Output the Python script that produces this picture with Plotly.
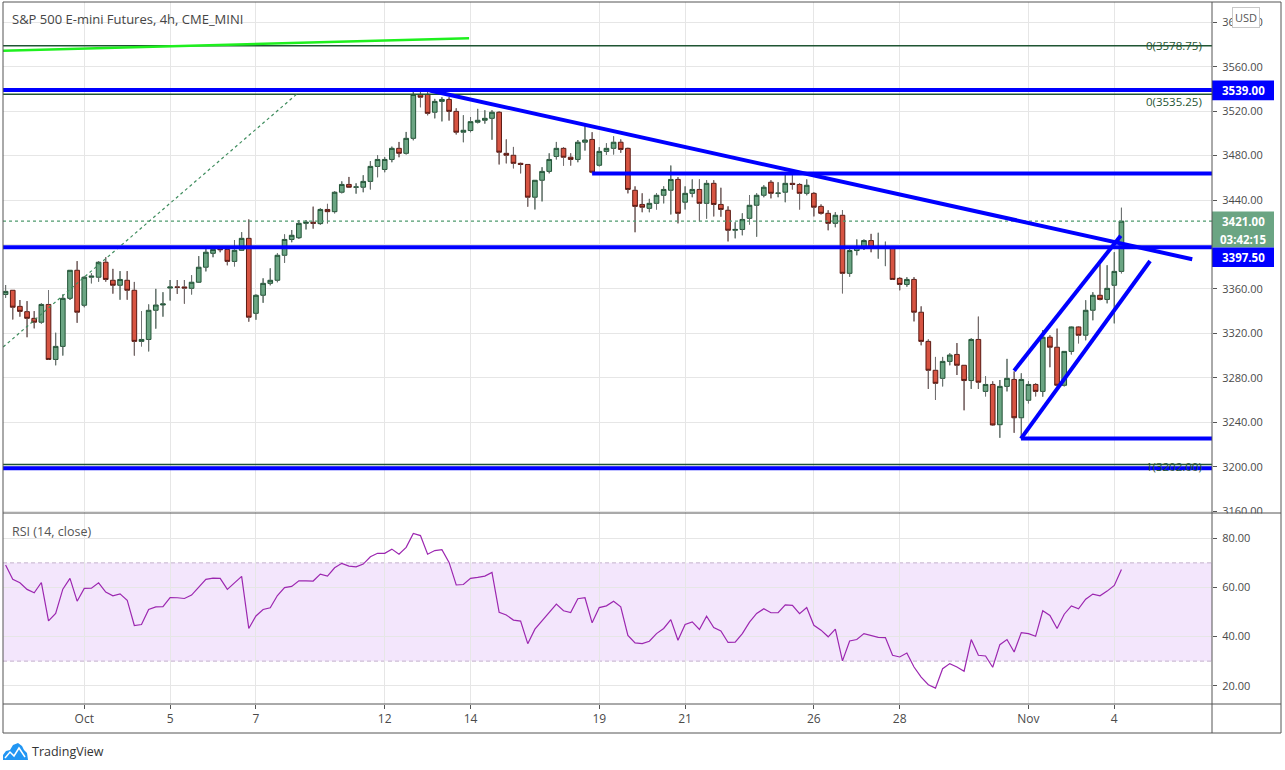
import plotly.graph_objects as go
from plotly.subplots import make_subplots

# ---------------- data ----------------
opens = [3355.0, 3358.75, 3344.25, 3339.5, 3333.5, 3330.0, 3346.0, 3296.5, 3308.25, 3351.5,
         3376.75, 3345.25, 3370.5, 3370.5, 3384.0, 3367.75, 3363.25, 3367.75, 3358.75, 3312.75,
         3314.5, 3340.75, 3345.5, 3360.75, 3361.75, 3361.75, 3360.5, 3366.0, 3379.5, 3392.0,
         3396.25, 3395.5, 3384.75, 3394.75, 3405.5, 3338.0, 3354.25, 3365.0, 3367.75, 3390.25,
         3404.5, 3406.0, 3419.0, 3420.0, 3418.75, 3431.5, 3429.5, 3447.0, 3454.0, 3451.5,
         3451.5, 3456.75, 3470.25, 3467.5, 3476.5, 3486.5, 3482.0, 3495.5, 3535.0, 3535.0,
         3519.0, 3528.75, 3530.5, 3519.75, 3501.0, 3502.5, 3510.0, 3511.75, 3513.5, 3519.0,
         3482.0, 3480.25, 3473.0, 3472.0, 3442.5, 3457.75, 3465.75, 3479.25, 3486.5, 3478.5,
         3476.5, 3492.0, 3494.5, 3471.25, 3483.75, 3486.5, 3492.0, 3486.5, 3448.75, 3436.0,
         3432.5, 3437.0, 3444.25, 3448.75, 3458.5, 3438.0, 3446.0, 3449.5, 3437.0, 3455.0,
         3436.0, 3430.75, 3412.75, 3413.5, 3423.5, 3435.25, 3444.25, 3456.0, 3446.0, 3447.0,
         3455.0, 3454.0, 3446.0, 3446.0, 3434.25, 3428.0, 3419.0, 3426.25, 3374.0, 3394.5,
         3397.0, 3403.5, 3396.75, 3397.0, 3397.5, 3369.5, 3364.0, 3368.5, 3339.0, 3312.75,
         3286.75, 3279.5, 3294.75, 3301.0, 3291.25, 3277.5, 3314.5, 3267.75, 3274.0, 3237.75,
         3272.25, 3278.5, 3244.0, 3259.75, 3274.0, 3267.75, 3316.5, 3307.5, 3273.25, 3303.75,
         3325.75, 3318.25, 3340.75, 3354.25, 3350.5, 3363.25, 3375.75]
highs = [3363.5, 3359.0, 3350.0, 3349.0, 3340.0, 3347.0, 3359.0, 3320.5, 3355.0, 3377.0,
         3385.0, 3371.5, 3374.0, 3385.0, 3388.5, 3378.0, 3376.0, 3376.0, 3366.25, 3339.75,
         3346.0, 3360.0, 3357.0, 3368.0, 3368.0, 3368.0, 3372.25, 3389.5, 3396.25, 3398.0,
         3398.0, 3398.0, 3404.0, 3411.0, 3422.5, 3355.0, 3369.5, 3378.5, 3392.0, 3409.0,
         3413.0, 3422.0, 3422.0, 3434.0, 3432.5, 3436.5, 3448.0, 3456.75, 3460.75, 3455.0,
         3462.25, 3475.0, 3480.25, 3478.5, 3488.0, 3492.25, 3501.25, 3537.5, 3539.0, 3539.0,
         3531.0, 3532.5, 3532.5, 3522.5, 3516.25, 3514.5, 3522.0, 3520.75, 3520.75, 3519.75,
         3494.5, 3487.75, 3473.5, 3472.25, 3458.0, 3469.5, 3482.0, 3492.25, 3487.5, 3482.0,
         3494.0, 3509.0, 3501.0, 3487.5, 3491.0, 3497.25, 3494.5, 3487.0, 3452.25, 3446.0,
         3441.0, 3446.0, 3452.25, 3471.0, 3460.5, 3452.25, 3458.5, 3458.5, 3457.75, 3457.75,
         3451.0, 3434.25, 3420.0, 3428.0, 3444.25, 3446.0, 3453.25, 3457.75, 3456.0, 3463.0,
         3463.0, 3455.0, 3458.5, 3447.0, 3436.0, 3430.75, 3429.0, 3431.0, 3396.5, 3404.5,
         3404.5, 3409.5, 3410.5, 3402.5, 3398.0, 3370.5, 3370.5, 3370.5, 3344.25, 3314.5,
         3298.75, 3298.75, 3302.0, 3311.25, 3291.5, 3315.5, 3335.0, 3281.25, 3276.75, 3278.0,
         3297.0, 3285.75, 3284.0, 3276.75, 3275.0, 3323.0, 3318.25, 3324.25, 3304.0, 3326.0,
         3326.5, 3349.75, 3357.0, 3382.0, 3381.25, 3393.0, 3433.0]
lows = [3352.0, 3332.5, 3335.0, 3316.5, 3324.5, 3328.75, 3296.0, 3291.25, 3300.0, 3350.0,
        3329.5, 3343.5, 3365.0, 3366.5, 3366.5, 3355.75, 3350.25, 3350.25, 3300.0, 3308.25,
        3303.75, 3324.25, 3335.0, 3349.5, 3355.5, 3346.75, 3355.0, 3365.5, 3375.75, 3388.5,
        3393.0, 3381.25, 3380.25, 3394.5, 3330.5, 3332.25, 3347.5, 3363.25, 3366.0, 3383.5,
        3402.0, 3405.0, 3413.5, 3414.25, 3417.75, 3419.0, 3428.0, 3446.0, 3451.0, 3445.75,
        3447.0, 3449.5, 3460.5, 3465.0, 3474.0, 3478.5, 3481.0, 3493.75, 3523.5, 3516.25,
        3513.5, 3510.75, 3511.5, 3499.0, 3492.0, 3501.0, 3509.0, 3508.75, 3494.25, 3472.0,
        3473.0, 3468.5, 3464.0, 3434.0, 3431.5, 3438.75, 3464.0, 3476.5, 3471.0, 3471.0,
        3474.0, 3484.5, 3464.0, 3470.25, 3480.75, 3481.0, 3482.5, 3446.0, 3411.0, 3429.0,
        3429.0, 3431.5, 3437.0, 3427.0, 3419.0, 3431.5, 3442.5, 3420.75, 3423.25, 3425.25,
        3425.0, 3402.75, 3405.5, 3408.25, 3418.0, 3407.0, 3442.5, 3441.5, 3442.5, 3438.0,
        3449.5, 3431.5, 3444.25, 3425.25, 3427.0, 3412.75, 3415.5, 3356.0, 3371.0, 3390.25,
        3395.0, 3393.0, 3387.25, 3380.5, 3368.0, 3358.75, 3362.0, 3330.75, 3309.25, 3270.0,
        3260.25, 3272.25, 3291.25, 3282.5, 3250.75, 3270.0, 3270.0, 3263.25, 3237.0, 3226.0,
        3267.75, 3230.5, 3225.5, 3257.0, 3263.25, 3263.0, 3289.5, 3272.25, 3272.25, 3301.0,
        3311.0, 3313.75, 3331.75, 3349.75, 3347.0, 3329.0, 3374.0]
closes = [3357.75, 3343.5, 3339.75, 3333.5, 3330.0, 3346.0, 3296.5, 3308.25, 3351.5, 3376.75,
          3339.0, 3370.5, 3371.5, 3384.0, 3368.5, 3363.25, 3368.5, 3358.75, 3312.75, 3314.5,
          3340.75, 3345.5, 3346.5, 3361.75, 3361.5, 3360.75, 3366.0, 3379.5, 3393.0, 3395.5,
          3395.25, 3384.75, 3394.75, 3405.5, 3334.5, 3354.25, 3365.0, 3367.75, 3390.25, 3404.5,
          3408.25, 3419.0, 3420.0, 3419.0, 3431.5, 3429.5, 3447.0, 3454.0, 3451.5, 3451.75,
          3456.75, 3470.25, 3476.5, 3476.5, 3486.5, 3482.0, 3495.5, 3535.0, 3532.5, 3518.0,
          3528.75, 3530.5, 3519.75, 3501.0, 3502.75, 3510.5, 3511.75, 3513.5, 3519.0, 3483.0,
          3480.25, 3473.0, 3472.0, 3442.5, 3457.75, 3465.75, 3476.5, 3486.5, 3478.5, 3476.5,
          3492.0, 3494.0, 3465.0, 3483.75, 3486.5, 3492.0, 3485.5, 3449.5, 3434.25, 3433.5,
          3437.0, 3444.25, 3449.5, 3458.5, 3428.0, 3446.0, 3449.5, 3437.0, 3455.0, 3436.0,
          3431.5, 3412.75, 3413.5, 3422.5, 3435.25, 3444.25, 3451.5, 3446.0, 3446.25, 3455.0,
          3454.0, 3446.0, 3453.25, 3433.5, 3428.0, 3419.0, 3426.25, 3374.0, 3394.5, 3397.5,
          3403.5, 3396.5, 3397.5, 3397.5, 3368.5, 3364.0, 3368.5, 3339.0, 3312.75, 3286.75,
          3275.0, 3294.75, 3300.5, 3291.25, 3277.5, 3314.5, 3276.0, 3274.0, 3237.5, 3272.25,
          3279.5, 3244.0, 3278.5, 3274.0, 3267.75, 3316.5, 3307.5, 3273.25, 3303.75, 3325.75,
          3318.25, 3340.75, 3354.25, 3350.5, 3360.5, 3375.75, 3421.0]
rsi_values = [69.1, 63.3, 61.9, 59.2, 57.8, 62.0, 46.4, 49.4, 59.3, 63.7,
              54.4, 59.6, 59.7, 61.9, 58.1, 56.6, 57.4, 54.8, 44.5, 44.9,
              51.0, 52.1, 52.2, 55.9, 55.8, 55.5, 56.9, 60.0, 63.3, 63.8,
              63.7, 59.2, 62.0, 64.5, 43.3, 48.4, 51.0, 51.7, 56.7, 59.9,
              60.4, 62.7, 62.7, 62.6, 65.4, 64.6, 68.0, 69.8, 68.7, 68.4,
              69.5, 72.5, 73.9, 73.9, 75.6, 73.5, 76.3, 82.0, 81.1, 73.5,
              75.0, 75.4, 70.2, 61.0, 61.2, 63.7, 64.1, 64.6, 66.1, 49.9,
              48.8, 46.7, 46.3, 37.1, 43.0, 46.3, 49.7, 53.2, 50.5, 49.8,
              55.4, 55.8, 45.6, 51.8, 52.5, 54.4, 52.1, 40.5, 37.4, 37.1,
              38.1, 41.2, 43.3, 46.9, 38.5, 44.9, 46.0, 42.9, 48.3, 43.7,
              42.3, 37.6, 37.7, 41.2, 45.9, 49.4, 51.3, 49.7, 49.7, 52.9,
              52.7, 49.3, 51.8, 44.6, 42.6, 39.9, 43.0, 30.1, 38.2, 38.8,
              41.2, 40.3, 39.7, 39.6, 32.4, 31.7, 33.3, 27.6, 23.5, 20.4,
              19.0, 26.9, 29.0, 27.6, 25.9, 38.8, 32.4, 32.1, 27.5, 36.7,
              38.8, 33.7, 41.6, 41.2, 40.1, 50.5, 48.6, 43.3, 49.1, 52.5,
              51.3, 55.2, 57.3, 56.6, 58.5, 60.8, 67.3]
tick_bars = [11, 23, 35, 53, 65, 83, 95, 113, 125, 143, 155]
tick_labels = ["Oct", "5", "7", "12", "14", "19", "21", "26", "28", "Nov", "4"]
price_ticks = [3160, 3200, 3240, 3280, 3320, 3360, 3400, 3440, 3480, 3520, 3560, 3600]
price_tick_text = ["3160.00", "3200.00", "3240.00", "3280.00", "3320.00", "3360.00", "",
                   "3440.00", "3480.00", "3520.00", "3560.00", "3600.00"]
rsi_ticks = [20, 40, 60, 80]

# drawings on the chart (bar index, price)
fib_levels = [3578.75, 3535.25, 3202.00]
fib_names = ["0(3578.75)", "0(3535.25)", "1(3202.00)"]
blue_levels = [3539.0, 3397.5, 3198.5]
ray_start = (82, 3463.75)
trend_down = [(59.3, 3538.6), (165.9, 3386.7)]
channel_upper = [(141.0, 3286.4), (155.9, 3407.9)]
channel_lower = [(141.95, 3225.25), (160.0, 3385.1)]
channel_base = 3225.25
fib_diag = [(-19.4, 3202.0), (40.7, 3535.25)]
green_line = [(-0.4, 3574.4), (64.8, 3585.6)]
rsi_band = (30, 70)

# ---------------- geometry ----------------
W, H = 1285, 770
ML, MR, MT, MB = 3, 73, 2, 66
PW, PH = W - ML - MR, H - MT - MB


def fx(px):
    return (px - ML) / PW


def fy(py):
    return (H - MB - py) / PH


split = fy(513)
FONT = "Open Sans, Noto Sans, sans-serif"
BLUE = "#0000ff"
FIBC = "#1f5533"
FRAME = "#555555"
GRID = "#e6e6e6"
UP, DOWN = "#6ba583", "#d75442"

bars = list(range(len(closes)))

fig = make_subplots(rows=2, cols=1, shared_xaxes=True, vertical_spacing=0)

fig.add_trace(go.Candlestick(
    x=bars, open=opens, high=highs, low=lows, close=closes,
    increasing=dict(line=dict(color="#225437", width=1), fillcolor=UP),
    decreasing=dict(line=dict(color="#5b1a13", width=1), fillcolor=DOWN),
    whiskerwidth=0, hoverinfo="skip"), row=1, col=1)

wick_x, wick_y = [], []
for i, o, h, l, c in zip(bars, opens, highs, lows, closes):
    top, bot = max(o, c), min(o, c)
    wick_x += [i, i, None, i, i, None]
    wick_y += [h, top, None, bot, l, None]
fig.add_trace(go.Scatter(x=wick_x, y=wick_y, mode="lines",
                         line=dict(color="#737375", width=1), hoverinfo="skip"),
              row=1, col=1)

fig.add_trace(go.Scatter(x=bars, y=rsi_values, mode="lines",
                         line=dict(color="#9c27b0", width=1.2), hoverinfo="skip"),
              row=2, col=1)

# ---------------- shapes ----------------
shapes = []
# RSI band
shapes.append(dict(type="rect", xref="paper", x0=0, x1=1, yref="y2", y0=rsi_band[0], y1=rsi_band[1],
                   fillcolor="#f3e6fc", line=dict(width=0), layer="below"))
for lv in rsi_band:
    shapes.append(dict(type="line", xref="paper", x0=0, x1=1, yref="y2", y0=lv, y1=lv,
                       line=dict(color="#c4b2cc", width=1, dash="4px,3px"), layer="below"))

# current price dotted line
shapes.append(dict(type="line", xref="paper", x0=0, x1=1, yref="y", y0=closes[-1], y1=closes[-1],
                   line=dict(color="#4f9a6e", width=1.2, dash="dot"), layer="above"))
# fib levels
for lv in fib_levels:
    shapes.append(dict(type="line", xref="paper", x0=0, x1=1, yref="y", y0=lv, y1=lv,
                       line=dict(color=FIBC, width=1.5), layer="above"))
# fib diagonal
shapes.append(dict(type="line", xref="x", yref="y", x0=fib_diag[0][0], y0=fib_diag[0][1],
                   x1=fib_diag[1][0], y1=fib_diag[1][1],
                   line=dict(color="#3f8d5e", width=1.2, dash="3px,3px"), layer="above"))
# lime line
shapes.append(dict(type="line", xref="x", yref="y", x0=green_line[0][0], y0=green_line[0][1],
                   x1=green_line[1][0], y1=green_line[1][1],
                   line=dict(color="#1ef01e", width=2.5), layer="above"))
# blue horizontal levels
for lv in blue_levels:
    shapes.append(dict(type="line", xref="paper", x0=0, x1=1, yref="y", y0=lv, y1=lv,
                       line=dict(color=BLUE, width=4), layer="above"))
# resistance ray
shapes.append(dict(type="line", xref="x", yref="y", x0=ray_start[0], y0=ray_start[1],
                   x1=400, y1=ray_start[1], line=dict(color=BLUE, width=4), layer="above"))
# channel base ray
shapes.append(dict(type="line", xref="x", yref="y", x0=channel_lower[0][0], y0=channel_base,
                   x1=400, y1=channel_base, line=dict(color=BLUE, width=4), layer="above"))
for seg in (trend_down, channel_upper, channel_lower):
    shapes.append(dict(type="line", xref="x", yref="y", x0=seg[0][0], y0=seg[0][1],
                       x1=seg[1][0], y1=seg[1][1], line=dict(color=BLUE, width=4), layer="above"))

# hide lower half of the cut 3160 label
shapes.append(dict(type="rect", xref="paper", yref="paper", x0=fx(1213), x1=fx(1280),
                   y0=fy(527), y1=fy(513.5), fillcolor="white", line=dict(width=0), layer="above"))

# price badges
badges = [
    (blue_levels[0], BLUE, f"{blue_levels[0]:.2f}"),
    (closes[-1], UP, f"{closes[-1]:.2f}"),
]
annotations = []
for price, col, txt in badges:
    shapes.append(dict(type="rect", xref="paper", yref="y", x0=fx(1212), x1=fx(1274),
                       y0=price - 9.2, y1=price + 8.6, fillcolor=col, line=dict(width=0),
                       layer="above"))
    annotations.append(dict(xref="paper", yref="y", x=fx(1243), y=price, text=f"<b>{txt}</b>",
                            showarrow=False, font=dict(family=FONT, size=11.5, color="white"),
                            xanchor="center", yanchor="middle"))
# countdown + displaced level badge (pixel placed)
for (ytop, ybot, col, txt) in [(231, 247.5, UP, "03:42:15"),
                               (247.5, 267, BLUE, f"{blue_levels[1]:.2f}")]:
    shapes.append(dict(type="rect", xref="paper", yref="paper", x0=fx(1212), x1=fx(1274),
                       y0=fy(ybot), y1=fy(ytop), fillcolor=col, line=dict(width=0), layer="above"))
    annotations.append(dict(xref="paper", yref="paper", x=fx(1243), y=fy((ytop + ybot) / 2),
                            text=f"<b>{txt}</b>", showarrow=False,
                            font=dict(family=FONT, size=11.5, color="white"),
                            xanchor="center", yanchor="middle"))

# frame
LINEF = dict(color=FRAME, width=1)
shapes += [
    dict(type="rect", xref="paper", yref="paper", x0=0, x1=fx(1281), y0=fy(733), y1=1,
         line=LINEF, layer="above"),
    dict(type="line", xref="paper", yref="paper", x0=0, x1=fx(1281), y0=split, y1=split,
         line=LINEF, layer="above"),
    dict(type="line", xref="paper", yref="paper", x0=0, x1=fx(1281), y0=0, y1=0,
         line=LINEF, layer="above"),
    dict(type="line", xref="paper", yref="paper", x0=1, x1=1, y0=fy(733), y1=1,
         line=LINEF, layer="above"),
]


# TradingView logo
def path_px(pts, close=True):
    s = "M " + " L ".join(f"{fx(x):.5f},{fy(y):.5f}" for x, y in pts)
    return s + (" Z" if close else "")


shapes.append(dict(type="path", xref="paper", yref="paper",
                   path=path_px([(3, 760), (3, 755), (6, 751), (10, 750), (13, 745), (18, 743),
                                 (22, 746), (24, 750), (27, 753), (28, 760)]),
                   fillcolor="#2196f3", line=dict(width=0), layer="above"))
shapes.append(dict(type="path", xref="paper", yref="paper",
                   path=path_px([(5, 758), (10, 752), (14, 756), (19, 748), (25, 757)], close=False),
                   line=dict(color="white", width=1.5), layer="above"))

# texts
annotations += [
    dict(xref="paper", yref="paper", x=fx(10), y=fy(19), text="S&amp;P 500 E-mini Futures, 4h, CME_MINI",
         showarrow=False, xanchor="left", yanchor="middle",
         font=dict(family=FONT, size=13, color="#454545")),
    dict(xref="paper", yref="paper", x=fx(10), y=fy(531), text="RSI (14, close)",
         showarrow=False, xanchor="left", yanchor="middle",
         font=dict(family=FONT, size=12.5, color="#555555")),
    dict(xref="paper", yref="paper", x=fx(30), y=fy(751), text="TradingView",
         showarrow=False, xanchor="left", yanchor="middle",
         font=dict(family=FONT, size=12.5, color="#333333")),
    dict(xref="paper", yref="paper", x=fx(1246), y=fy(17.5), text="USD", showarrow=False,
         xanchor="center", yanchor="middle", bgcolor="white", bordercolor="#c8c8c8",
         borderwidth=1, borderpad=2, font=dict(family=FONT, size=11, color="#555555")),
]
fib_shift = [0, -7, -2]
for lv, name, sh in zip(fib_levels, fib_names, fib_shift):
    annotations.append(dict(xref="paper", yref="y", x=fx(1204), y=lv, yshift=sh, text=name,
                            showarrow=False, xanchor="right", yanchor="middle",
                            font=dict(family=FONT, size=11.5, color=FIBC)))

fig.update_layout(
    width=W, height=H, margin=dict(l=ML, r=MR, t=MT, b=MB, pad=0),
    paper_bgcolor="white", plot_bgcolor="rgba(0,0,0,0)", showlegend=False,
    font=dict(family=FONT, size=11, color="#4a4a4a"),
    boxgap=0.35, boxgroupgap=0, hovermode=False, dragmode=False,
    shapes=shapes, annotations=annotations,
)

xr = [-0.363, 168.66]
fig.update_xaxes(range=xr, tickvals=tick_bars, ticktext=tick_labels, showgrid=True,
                 gridcolor=GRID, gridwidth=1, zeroline=False, showline=False,
                 rangeslider_visible=False, fixedrange=True)
fig.update_xaxes(showticklabels=False, ticks="", row=1, col=1)
fig.update_xaxes(showticklabels=True, ticks="outside", ticklen=4, tickcolor=FRAME,
                 tickfont=dict(family=FONT, size=12, color="#4a4a4a"), row=2, col=1)

fig.update_yaxes(side="right", showgrid=True, gridcolor=GRID, gridwidth=1, zeroline=False,
                 showline=False, ticks="outside", ticklen=4, tickcolor=FRAME,
                 tickformat=".2f", tickfont=dict(family=FONT, size=11, color="#4a4a4a"),
                 ticklabelstandoff=3, fixedrange=True)
fig.update_yaxes(range=[3158.3, 3618.2], tickvals=price_ticks, ticktext=price_tick_text,
                 domain=[split, 1], row=1, col=1)
fig.update_yaxes(range=[12.55, 90.3], tickvals=rsi_ticks, domain=[0, split], row=2, col=1)

fig.write_html("out.html", config={"displayModeBar": False, "staticPlot": True},
               post_script="document.body.style.margin='0';document.body.style.overflow='hidden';")
